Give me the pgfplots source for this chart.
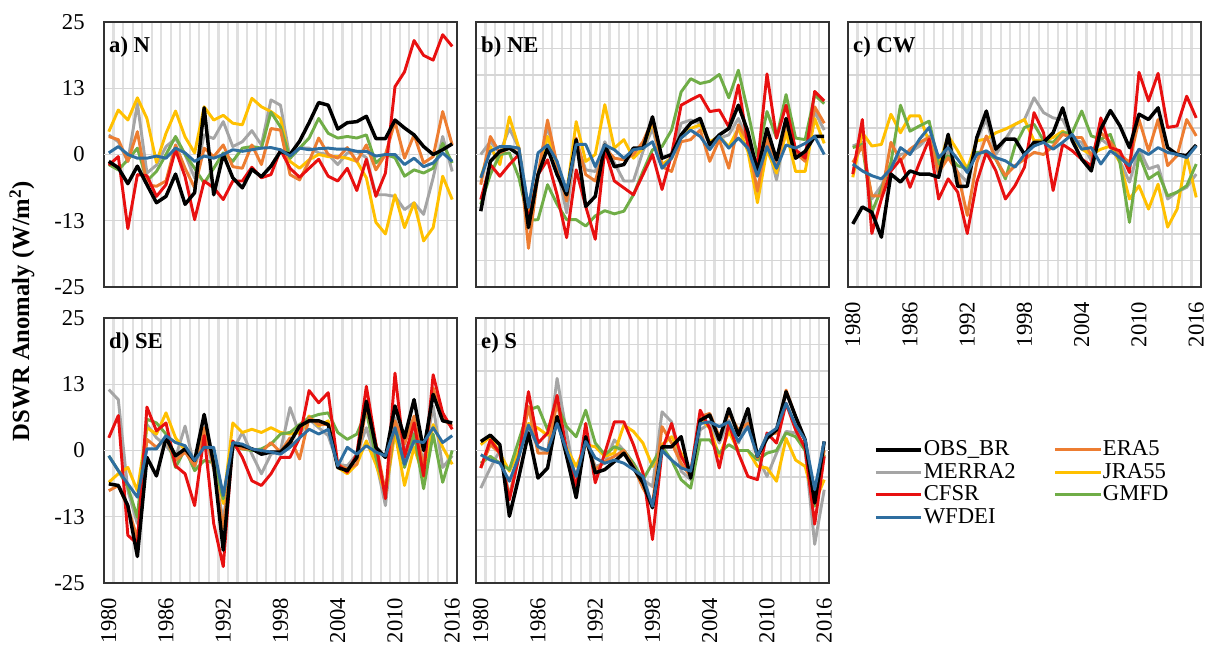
\documentclass[border=0pt]{standalone}
\usepackage{fontspec}
\setmainfont{Liberation Serif}
\usepackage{pgfplots}
\pgfplotsset{compat=1.18}
\usepackage{pgfplotstable}

\definecolor{cobs}{RGB}{0,0,0}
\definecolor{cera}{RGB}{237,125,49}
\definecolor{cmer}{RGB}{165,165,165}
\definecolor{cjra}{RGB}{255,192,0}
\definecolor{ccfs}{RGB}{232,16,16}
\definecolor{cgmf}{RGB}{112,173,71}
\definecolor{cwfd}{RGB}{46,110,160}

% columns: year OBS_BR ERA5 MERRA2 JRA55 CFSR GMFD WFDEI
\pgfplotstableread{
year obs era merra jra cfsr gmfd wfdei
1980 -1.3 3.4 3.7 4.3 -2.0 -1.9 0.3
1981 -2.5 2.8 2.4 8.4 -0.4 -2.9 1.5
1982 -5.5 -1.3 -1.3 6.5 -14.0 -1.0 0.0
1983 -2.2 4.3 9.6 10.7 -3.8 1.2 -0.7
1984 -5.7 -5.7 -3.5 6.8 -4.0 -5.0 -0.7
1985 -9.1 -6.0 -2.0 -1.5 -7.9 -3.2 -0.3
1986 -7.9 -5.0 1.5 4.0 -5.7 0.0 -0.7
1987 -3.7 1.8 3.0 8.2 0.9 3.4 1.2
1988 -9.4 -2.6 0.0 3.3 -4.2 0.0 0.3
1989 -7.2 -6.3 -4.4 0.3 -12.3 -2.6 -1.3
1990 8.8 1.2 3.7 9.0 -5.0 -5.4 -0.3
1991 -7.6 -0.4 3.0 6.5 -6.3 -2.6 -0.7
1992 0.0 1.8 6.2 7.4 -8.5 0.3 0.0
1993 -4.4 -2.3 1.5 5.9 -5.0 -1.3 0.9
1994 -6.3 -2.6 2.4 5.6 -5.0 1.2 0.6
1995 -2.8 1.8 4.5 10.6 -2.4 1.5 0.9
1996 -4.2 -1.9 1.8 9.0 -4.4 1.2 1.2
1997 -2.2 4.9 10.3 8.1 -3.8 8.0 1.3
1998 0.6 4.6 9.3 6.8 0.9 5.2 0.9
1999 0.0 -3.8 -0.7 -1.3 -2.6 -0.7 -0.3
2000 2.5 -4.8 1.2 -2.6 -4.3 1.2 1.2
2001 6.0 -1.3 1.2 -1.0 -2.6 3.1 0.9
2002 9.8 3.1 0.3 0.0 -0.9 6.8 1.1
2003 9.3 0.0 0.0 -0.4 -4.1 4.0 1.2
2004 4.8 -0.7 -1.9 -0.4 -5.0 3.1 1.0
2005 6.0 1.3 0.3 -0.7 -2.6 3.4 1.0
2006 6.2 -1.3 0.6 -1.3 -6.8 3.1 0.6
2007 7.2 1.8 -0.6 -4.4 -0.9 3.7 0.6
2008 3.0 -2.9 -7.6 -12.8 -7.9 -1.6 -0.3
2009 3.0 0.0 -7.6 -15.0 -3.5 0.0 0.0
2010 6.5 6.2 -7.9 -7.6 12.8 -0.6 0.0
2011 5.0 -0.7 -10.4 -13.8 15.6 -4.1 -1.9
2012 3.7 3.7 -9.1 -9.1 21.5 -2.9 -0.7
2013 1.5 -1.6 -11.3 -16.3 18.7 -3.5 -2.3
2014 0.0 -0.4 -4.4 -13.8 17.8 -2.6 -1.6
2015 0.9 8.1 3.4 -4.1 22.6 2.1 0.3
2016 2.0 1.8 -3.2 -8.5 20.4 -1.6 -1.3
}\tabA

\pgfplotstableread{
year obs era merra jra cfsr gmfd wfdei
1980 -10.7 -5.7 0.0 -4.4 -8.5 -9.4 -4.4
1981 -1.3 3.4 2.4 1.5 -1.9 -3.8 0.6
1982 0.6 0.3 0.3 -1.9 -4.1 0.0 1.5
1983 1.2 1.2 4.9 7.1 -1.9 0.3 1.5
1984 0.0 1.2 1.2 1.2 0.0 -4.4 1.2
1985 -13.8 -17.7 -11.6 -11.9 -12.6 -12.4 -10.0
1986 -3.8 -3.8 -4.4 -3.8 -3.8 -12.3 0.3
1987 1.2 6.5 5.6 3.4 -1.0 -5.7 1.8
1988 -3.8 -1.9 -2.6 -1.9 -7.6 -9.4 -1.3
1989 -7.6 -8.8 -11.0 -7.6 -15.7 -12.3 -6.9
1990 2.8 3.1 2.4 6.2 -2.9 -12.3 1.9
1991 -9.8 -3.8 -2.9 -1.3 -9.8 -13.5 1.9
1992 -7.9 -5.0 -3.2 0.0 -16.0 -11.6 -2.3
1993 1.8 1.2 2.4 9.4 0.9 -10.6 1.8
1994 -2.3 -0.7 -1.6 1.2 -5.0 -11.2 0.9
1995 -1.9 -1.0 -5.0 2.8 -6.3 -10.7 -0.7
1996 1.2 0.0 -5.0 -0.7 -7.6 -7.6 0.9
1997 1.2 2.4 0.6 1.2 -3.8 -3.2 1.2
1998 7.1 6.5 4.9 6.2 0.0 0.9 2.4
1999 -0.7 -2.3 -1.9 -1.9 -6.6 1.5 -2.6
2000 0.0 -3.2 -0.7 -0.7 0.0 4.6 -0.7
2001 3.7 2.4 5.9 3.1 9.3 11.8 3.1
2002 5.9 2.8 6.5 4.9 10.3 14.3 4.6
2003 6.8 4.6 5.9 5.6 11.2 13.4 3.4
2004 1.8 -1.3 2.1 2.4 8.1 13.8 0.9
2005 3.7 2.8 3.1 3.4 8.4 15.1 3.4
2006 4.9 -2.6 3.7 1.5 5.2 10.7 1.2
2007 9.3 5.6 6.8 4.9 13.1 15.9 3.1
2008 4.3 2.4 2.4 0.6 1.8 8.1 1.2
2009 -3.2 -6.9 -7.6 -9.1 -1.9 -0.4 -4.1
2010 4.9 3.1 2.4 0.9 15.2 8.1 1.5
2011 -1.0 -2.6 -4.8 -3.5 3.1 3.1 -2.6
2012 6.8 6.2 4.9 4.3 9.3 11.3 1.8
2013 -0.7 0.3 -0.4 -3.2 0.9 3.1 1.2
2014 0.6 -1.3 0.3 -3.2 -0.7 2.8 2.1
2015 3.4 9.0 8.1 6.8 11.9 11.2 3.4
2016 3.4 5.9 4.6 2.1 10.1 9.6 0.0
}\tabB

\pgfplotstableread{
year obs era merra jra cfsr gmfd wfdei
1980 -13.1 -1.5 1.6 -4.3 -3.7 1.3 -1.8
1981 -9.9 1.6 2.3 4.1 6.6 1.9 -3.1
1982 -10.9 -7.8 -8.4 1.6 -14.9 -10.9 -4.0
1983 -15.6 -7.8 -5.9 1.9 -8.4 -6.5 -4.6
1984 -3.7 2.3 -2.1 7.6 -3.1 -1.5 -2.7
1985 -5.2 -1.2 0.0 4.1 -0.9 9.3 1.3
1986 -3.1 1.0 0.4 7.3 -6.2 4.4 0.0
1987 -3.7 2.3 1.6 7.3 -1.5 5.4 2.9
1988 -3.7 3.2 3.5 2.3 2.9 6.3 5.1
1989 -4.3 -3.4 -4.0 -2.1 -8.4 -1.8 -0.6
1990 3.8 -0.6 1.0 3.5 -4.6 -0.2 1.3
1991 -6.0 -3.4 -3.4 0.7 -7.1 -2.1 -0.9
1992 -6.0 -11.5 -5.2 -2.7 -14.9 -2.7 -3.4
1993 3.2 -1.5 2.9 2.6 -5.2 0.4 0.0
1994 8.2 3.5 6.6 2.9 0.4 0.4 0.7
1995 1.0 -0.9 0.0 4.1 -3.1 -0.9 -0.6
1996 2.9 -4.0 2.9 4.8 -8.4 -4.6 -1.2
1997 2.9 -2.1 5.7 5.7 -5.9 1.6 -2.4
1998 0.0 -0.9 6.6 6.6 -2.4 5.1 0.0
1999 2.3 0.4 10.7 2.6 7.9 5.7 1.6
2000 2.3 0.0 7.9 2.6 4.1 2.6 2.3
2001 4.1 1.6 6.9 3.2 -6.8 2.3 1.0
2002 8.8 3.8 6.6 4.4 1.9 4.1 2.3
2003 2.6 3.2 2.9 3.2 0.7 4.1 3.8
2004 -0.9 3.2 2.3 1.0 -0.9 8.2 1.0
2005 -3.1 -0.2 -1.2 0.0 -2.1 3.5 1.3
2006 4.8 4.1 2.9 1.0 6.9 2.9 -1.8
2007 8.3 2.3 1.6 1.6 1.3 3.8 0.7
2008 5.4 0.0 -1.2 -1.5 0.7 -1.5 -0.6
2009 1.3 -1.5 -5.2 -8.4 -3.4 -12.8 -2.1
2010 7.6 6.6 1.0 -5.9 15.5 0.0 1.0
2011 6.6 0.7 -2.7 -10.3 10.1 -4.6 0.0
2012 8.8 6.6 -2.1 -5.6 15.3 -3.4 1.3
2013 1.3 -2.1 -8.4 -13.7 5.1 -7.8 0.4
2014 0.0 -0.2 -7.1 -10.3 5.4 -7.1 0.0
2015 -0.2 6.6 -6.2 -0.2 11.0 -5.9 -0.6
2016 1.8 3.5 -3.7 -8.1 6.9 -1.8 1.6
}\tabC

\pgfplotstableread{
year obs era merra jra cfsr gmfd wfdei
1980 -6.3 -7.6 11.5 -6.0 2.4 -1.0 -1.0
1981 -6.6 -6.6 9.6 -4.4 6.6 -3.8 -3.8
1982 -10.4 -10.7 -7.6 -3.2 -16.0 -6.9 -6.3
1983 -20.0 -16.6 -13.8 -7.6 -17.6 -12.6 -8.8
1984 -1.3 2.1 4.9 4.3 8.2 5.9 0.3
1985 -4.8 0.6 2.4 3.1 3.7 5.2 0.3
1986 2.4 2.4 0.9 7.1 5.2 3.1 2.8
1987 -1.0 -1.9 -1.3 2.4 -2.9 -3.2 1.5
1988 0.3 -0.3 4.6 0.0 -4.4 0.3 0.9
1989 -1.9 -2.9 -3.2 -2.6 -10.4 -3.8 -1.9
1990 6.8 4.3 3.1 4.0 2.8 -1.9 0.6
1991 -2.6 -3.2 -3.5 -1.3 -13.8 -2.3 0.6
1992 -18.8 -14.8 -13.2 -10.0 -21.9 -9.1 -8.5
1993 1.2 1.5 0.0 5.2 1.8 0.9 1.5
1994 0.9 0.3 3.4 3.4 -1.3 0.3 1.2
1995 0.3 0.3 -0.7 4.0 -5.7 0.0 0.3
1996 -0.7 -0.3 -4.4 3.4 -6.6 0.3 0.0
1997 -0.3 1.5 -0.7 4.3 -4.4 1.2 -0.3
1998 -0.3 -0.3 0.0 3.4 -1.3 3.1 -0.7
1999 1.5 2.4 8.1 3.1 -1.3 3.4 0.6
2000 4.6 -1.6 3.1 3.4 2.4 4.9 2.4
2001 5.6 6.2 5.9 6.5 11.3 6.2 4.0
2002 5.6 4.9 4.3 4.6 9.0 6.8 3.1
2003 4.9 4.9 2.8 5.6 10.9 7.1 4.0
2004 -3.2 -2.6 -2.6 -3.2 -2.6 3.4 -2.9
2005 -3.8 -3.5 -2.9 -4.4 -4.1 2.1 0.6
2006 -1.3 -2.6 -0.7 -2.6 -0.7 3.1 -0.7
2007 9.3 8.4 4.3 1.8 12.1 7.4 0.9
2008 0.6 1.2 -1.9 -2.6 1.2 -1.3 -0.3
2009 -1.3 -7.9 -10.4 -8.2 -9.1 -7.9 -1.0
2010 8.4 5.6 6.2 3.4 14.6 4.9 4.3
2011 2.4 1.2 0.0 -6.6 -1.3 -3.2 -2.6
2012 9.6 6.5 3.4 0.6 5.2 3.1 1.8
2013 0.0 -3.5 -1.9 -5.0 -4.8 -7.2 1.5
2014 10.6 11.8 8.4 4.9 14.3 3.1 4.3
2015 5.6 5.9 -3.2 0.6 7.1 -6.0 1.5
2016 5.2 4.6 -1.0 -2.6 4.0 0.0 2.8
}\tabD

\pgfplotstableread{
year obs era merra jra cfsr gmfd wfdei
1980 1.7 -3.3 -7.1 1.1 -3.3 -2.4 -0.8
1981 2.9 1.1 -3.3 2.6 2.0 -1.1 -1.8
1982 1.1 -0.5 0.0 -0.5 -0.5 -2.4 -2.4
1983 -12.4 -8.9 -8.6 -3.9 -9.3 -3.6 -5.8
1984 -4.9 -1.1 -0.5 0.0 -1.1 2.0 -1.1
1985 3.3 8.3 4.5 5.1 11.1 7.6 4.8
1986 -5.2 -0.5 0.7 4.2 1.4 8.3 0.7
1987 -3.3 -0.5 -0.5 2.9 3.3 3.9 0.0
1988 6.4 9.2 13.6 6.4 10.4 8.6 5.1
1989 -1.1 -0.5 3.3 0.4 0.0 4.5 0.0
1990 -8.9 -4.9 -6.1 -3.0 -7.1 2.6 -4.9
1991 2.6 2.0 2.0 1.1 5.1 7.6 1.7
1992 -4.2 -3.6 -3.0 0.7 -6.1 1.4 -1.4
1993 -3.6 -2.1 -2.4 -1.1 -0.5 -0.8 -2.4
1994 -2.1 -1.1 2.0 -0.5 5.4 0.7 -1.8
1995 -0.5 0.0 0.0 4.8 5.4 0.0 -2.4
1996 -3.3 -3.0 -2.4 3.6 1.1 -2.4 -3.6
1997 -6.1 -7.1 -5.5 1.4 -4.2 -5.5 -4.9
1998 -10.8 -10.2 -6.8 -3.0 -16.8 -2.4 -10.5
1999 0.7 4.5 7.3 1.1 0.0 0.7 0.0
2000 0.7 1.4 5.4 2.6 5.1 -1.8 -1.8
2001 2.6 -2.4 -3.9 -0.5 -1.1 -5.5 -3.3
2002 -5.2 -4.9 -5.5 -4.2 -4.2 -7.1 -3.9
2003 5.7 6.4 3.9 6.1 7.6 2.0 5.1
2004 6.7 7.0 5.1 4.2 4.2 2.0 5.4
2005 2.0 2.6 1.4 -1.1 -3.3 -0.5 4.5
2006 7.9 7.0 5.7 3.6 5.1 1.1 5.4
2007 2.9 3.9 1.4 0.0 -0.5 0.0 1.7
2008 7.9 5.1 6.1 0.0 -4.9 0.0 4.5
2009 -1.1 -1.4 -1.1 -3.0 -5.5 -1.8 -1.1
2010 2.3 2.9 -4.9 -3.3 3.3 -0.5 2.9
2011 3.9 3.3 -0.5 -5.8 1.4 0.0 4.2
2012 11.1 11.4 3.6 2.3 8.9 3.3 8.9
2013 6.4 6.4 3.3 -1.8 3.9 2.6 4.8
2014 2.0 1.7 0.0 -3.0 0.4 0.0 2.0
2015 -9.9 -9.6 -17.7 -9.9 -13.9 -10.5 -7.4
2016 1.7 0.0 -7.4 -5.5 -1.1 -0.8 1.7
}\tabE

\newcommand{\allseries}[1]{%
  \addplot[cmer, forget plot] table[x=year,y=merra]{#1};
  \addplot[cjra, forget plot] table[x=year,y=jra]{#1};
  \addplot[cgmf, forget plot] table[x=year,y=gmfd]{#1};
  \addplot[cera, forget plot] table[x=year,y=era]{#1};
  \addplot[ccfs, forget plot] table[x=year,y=cfsr]{#1};
  \addplot[cobs, line width=2.6pt, forget plot] table[x=year,y=obs]{#1};
  \addplot[cwfd, forget plot] table[x=year,y=wfdei]{#1};
}

\tikzset{plabel/.style={anchor=west, inner sep=0pt, font=\fontsize{17}{18}\selectfont\bfseries}}

\pgfplotsset{
  panel/.style={
    scale only axis, width=264.75pt, height=198.75pt,
    xmin=1979.5, xmax=2016.5, ymin=-25, ymax=25,
    no markers,
    axis line style={black!80, line width=1.1pt},
    major tick length=0pt, minor tick length=0pt,
    xtick={1980,1986,1992,1998,2004,2010,2016},
    minor xtick={1980.5,1981.5,...,2015.5},
    xminorgrids=true,
    minor x grid style={black!12, line width=1.6pt},
    ymajorgrids=true,
    major y grid style={black!16, line width=1pt},
    ytick={-20,-15,-10,-5,5,10,15,20},
    extra y ticks={0},
    extra y tick labels={},
    extra y tick style={ymajorgrids=true, major grid style={black, line width=0.9pt}},
    tick label style={font=\fontsize{17}{18}\selectfont},
    xticklabels={}, yticklabels={},
    every axis plot/.append style={line width=2.2pt, line join=round},
  },
  ylab/.style={
    ytick={-25,-12.5,12.5,25}, yticklabels={-25,-13,13,25},
    extra y tick labels={0},
    yticklabel style={xshift=-11pt},
  },
  xlab/.style={
    xticklabels={1980,1986,1992,1998,2004,2010,2016},
    xticklabel style={rotate=90, anchor=east, inner sep=1pt, xshift=-10pt},
  },
}

\begin{document}
\begin{tikzpicture}
\path[use as bounding box] (0,0) rectangle (907.5pt,486pt);

% a) N
\begin{axis}[panel, ylab, at={(78pt,270.75pt)}, anchor=south west]
\allseries{\tabA}
\node[plabel] at (rel axis cs:0.014,0.906) {a) N};
\end{axis}

% b) NE
\begin{axis}[panel, at={(357pt,270.75pt)}, anchor=south west]
\allseries{\tabB}
\node[plabel] at (rel axis cs:0.014,0.906) {b) NE};
\end{axis}

% c) CW
\begin{axis}[panel, xlab, at={(636pt,270.75pt)}, anchor=south west]
\allseries{\tabC}
\node[plabel] at (rel axis cs:0.014,0.906) {c) CW};
\end{axis}

% d) SE
\begin{axis}[panel, ylab, xlab, at={(78pt,48.75pt)}, anchor=south west]
\allseries{\tabD}
\node[plabel] at (rel axis cs:0.014,0.906) {d) SE};
\end{axis}

% e) S
\begin{axis}[panel, xlab, at={(357pt,48.75pt)}, anchor=south west,
  legend columns=2,
  legend cell align=left,
  legend style={at={(1.116,0.553)}, anchor=north west, draw=none, fill=none,
    font=\fontsize{17}{18}\selectfont,
    nodes={inner sep=0.6pt, text height=11.5pt, text depth=3pt},
    row sep=1.2pt,
    /tikz/every even column/.append style={column sep=28pt}},
  legend image code/.code={\draw[#1] (0pt,0pt) -- (34pt,0pt);}]
\addlegendimage{cobs, line width=2.6pt}\addlegendentry{OBS\_BR}
\addlegendimage{cera, line width=2.2pt}\addlegendentry{ERA5}
\addlegendimage{cmer, line width=2.2pt}\addlegendentry{MERRA2}
\addlegendimage{cjra, line width=2.2pt}\addlegendentry{JRA55}
\addlegendimage{ccfs, line width=2.2pt}\addlegendentry{CFSR}
\addlegendimage{cgmf, line width=2.2pt}\addlegendentry{GMFD}
\addlegendimage{cwfd, line width=2.2pt}\addlegendentry{WFDEI}
\allseries{\tabE}
\node[plabel] at (rel axis cs:0.014,0.906) {e) S};
\end{axis}

\node[rotate=90, font=\fontsize{18.5}{20}\selectfont\bfseries] at (16.5pt,252.75pt) {DSWR Anomaly (W/m\textsuperscript{2})};
\end{tikzpicture}
\end{document}
